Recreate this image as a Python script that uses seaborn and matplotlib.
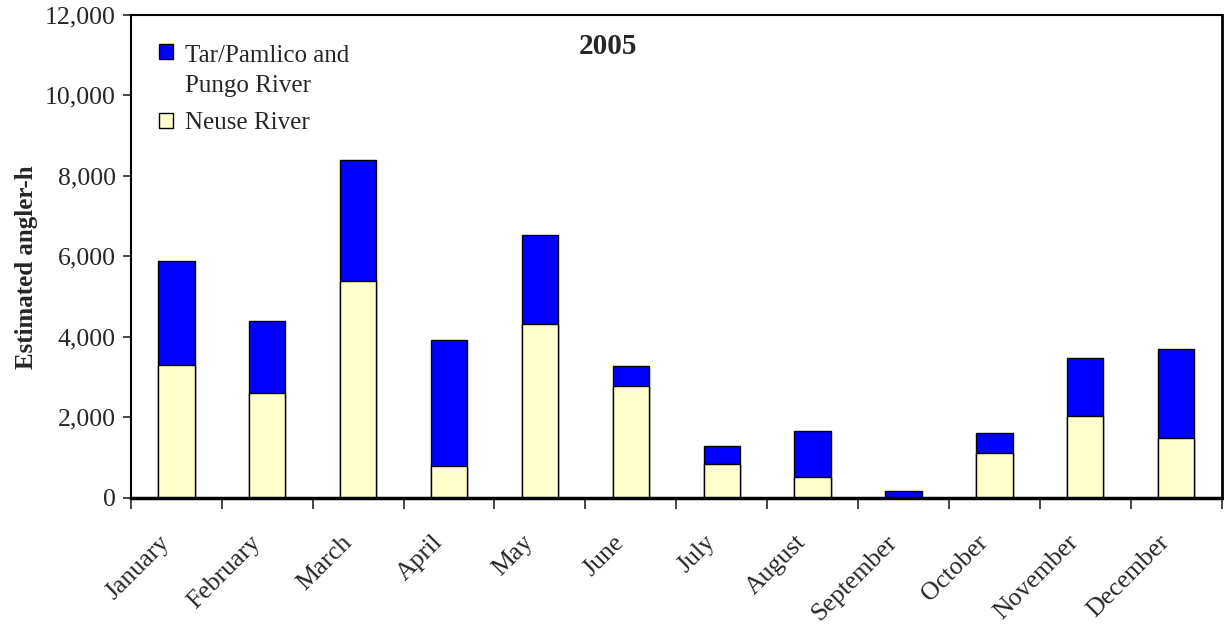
import matplotlib
matplotlib.use("Agg")
import matplotlib.pyplot as plt
import matplotlib.transforms as mtransforms
import seaborn as sns
import pandas as pd
import numpy as np
from matplotlib.patches import Patch, Rectangle
from matplotlib.legend_handler import HandlerPatch
from matplotlib.ticker import FuncFormatter, FixedLocator

months = ["January", "February", "March", "April", "May", "June", "July",
          "August", "September", "October", "November", "December"]
neuse = [3300, 2610, 5390, 780, 4320, 2770, 840, 520, 0, 1110, 2020, 1490]
tar_pamlico = [2580, 1770, 3010, 3130, 2210, 490, 430, 1130, 155, 490, 1460, 2200]

sns.set_theme(style="white")
plt.rcParams['font.family'] = ['Liberation Serif', 'DejaVu Serif']

total = [a + b for a, b in zip(neuse, tar_pamlico)]
df = pd.DataFrame({"month": months, "neuse": neuse, "total": total})

fig = plt.figure(figsize=(12.24, 6.25), dpi=100)
ax = fig.add_axes([0.107, 0.204, 0.891, 0.772])

sns.barplot(data=df, x="month", y="total", color="#0000FF", saturation=1,
            width=0.4, edgecolor="black", linewidth=1, ax=ax)
sns.barplot(data=df, x="month", y="neuse", color="#FFFFCC", saturation=1,
            width=0.4, edgecolor="black", linewidth=1, ax=ax)

ax.set_xlim(-0.5, 11.5)
ax.set_ylim(0, 12000)
ax.set_yticks(np.arange(0, 12001, 2000))
ax.yaxis.set_major_formatter(FuncFormatter(lambda v, p: f"{int(v):,}"))
ax.tick_params(axis="y", labelsize=18.5, length=6, width=1.2, direction="out", left=True, pad=5)

ax.set_xticks(range(12))
ax.set_xticklabels(months, rotation=45, ha="right", va="center",
                   rotation_mode="anchor", fontsize=18.5)
ax.tick_params(axis="x", which="major", length=0, pad=30)
ax.xaxis.set_minor_locator(FixedLocator(np.arange(-0.5, 12, 1)))
ax.tick_params(axis="x", which="minor", length=8, width=1.2, direction="out", bottom=True)
shift = mtransforms.ScaledTranslation(-10 / 100, 0, fig.dpi_scale_trans)
for lab in ax.get_xticklabels():
    lab.set_transform(lab.get_transform() + shift)

for s in ax.spines.values():
    s.set_visible(True)
    s.set_color("black")
    s.set_linewidth(1.5)
ax.spines["bottom"].set_linewidth(2.5)
ax.spines["right"].set_linewidth(2)

ax.set_xlabel("")
ax.set_ylabel("Estimated angler-h", fontsize=18, fontweight="bold")
ax.yaxis.set_label_coords(-0.085, 0.478)
ax.text(0.437, 0.934, "2005", transform=ax.transAxes, fontsize=21, fontweight="bold",
        ha="center", va="center")


def top_square(legend, orig_handle, xdescent, ydescent, width, height, fontsize):
    nlines = orig_handle.get_label().count("\n")
    shift_y = 0.75 * fontsize * nlines
    return Rectangle((-xdescent, -ydescent + shift_y), width, height)


handles = [Patch(facecolor="#0000FF", edgecolor="black", label="Tar/Pamlico and\nPungo River"),
           Patch(facecolor="#FFFFCC", edgecolor="black", label="Neuse River")]
leg = ax.legend(handles=handles, loc="upper left", bbox_to_anchor=(0.005, 0.985), frameon=False,
                fontsize=18, handlelength=0.55, handleheight=0.55, handletextpad=0.5,
                labelspacing=0.6,
                handler_map={Patch: HandlerPatch(patch_func=top_square)})
for t in leg.get_texts():
    t.set_linespacing(1.5)

fig.savefig("out.png", dpi=100)
